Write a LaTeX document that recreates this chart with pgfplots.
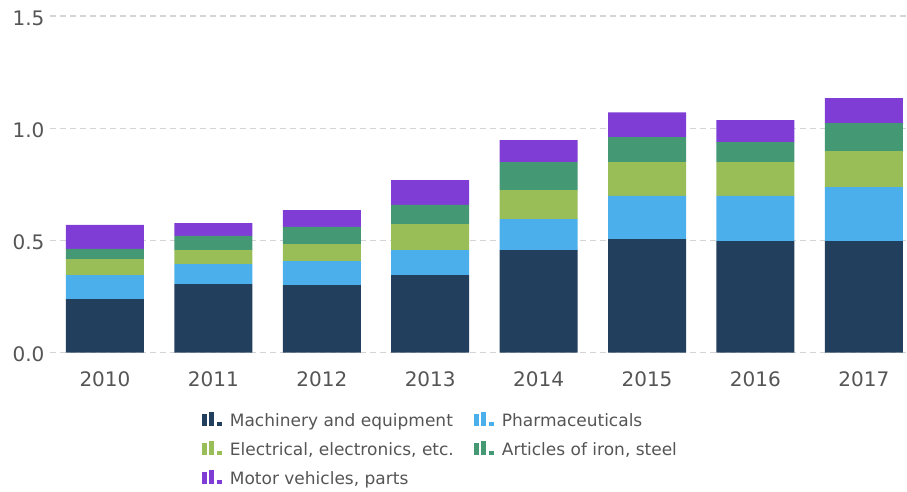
\documentclass[border=0pt]{standalone}
\usepackage{fontspec}
\setmainfont{DejaVu Sans}
\usepackage{pgfplots}
\pgfplotsset{compat=1.18}
\definecolor{cmach}{HTML}{223F5E}
\definecolor{cpharma}{HTML}{4AAFEA}
\definecolor{celec}{HTML}{9ABE57}
\definecolor{ciron}{HTML}{449874}
\definecolor{cmotor}{HTML}{803DD6}
\definecolor{ctext}{HTML}{555555}
\definecolor{cgrid}{HTML}{D4D4D4}
\pgfplotsset{
  baricon/.style={legend image code/.code={
    \fill[#1] (0pt,-4.5pt) rectangle (5pt,7.5pt);
    \fill[#1] (7.5pt,-4.5pt) rectangle (12.5pt,9.5pt);
    \fill[#1] (15pt,-4.5pt) rectangle (20pt,-0.5pt);
  }}
}
\begin{document}
\begin{tikzpicture}
\path[use as bounding box] (-50pt,-139.3pt) rectangle (857pt,352.7pt);
\begin{axis}[
  at={(0pt,0pt)}, anchor=south west,
  scale only axis, width=857pt, height=336.7pt,
  xmin=-0.507, xmax=7.398, ymin=0, ymax=1.5,
  ybar stacked, bar width=0.72, bar shift=0pt,
  axis line style={draw=none},
  major tick length=0pt,
  xtick={0,1,2,3,4,5,6,7},
  xticklabels={2010,2011,2012,2013,2014,2015,2016,2017},
  ytick={0,0.5,1,1.5},
  /pgf/number format/fixed, /pgf/number format/fixed zerofill,
  /pgf/number format/precision=1, /pgf/number format/assume math mode=true,
  ticklabel style={font=\fontsize{20}{23}\selectfont, text=ctext},
  xticklabel style={yshift=-15pt},
  yticklabel style={xshift=-2pt, yshift=-2pt},
  ymajorgrids, grid style={cgrid, line width=1.4pt, dash pattern=on 6pt off 4pt},
  legend columns=2,
  legend cell align=left,
  legend style={draw=none, fill=none, inner sep=0pt, at={(0.177,-0.177)}, anchor=north west,
    font=\fontsize{17}{20}\selectfont, text=ctext,
    nodes={inner sep=0pt, text height=13pt, text depth=4pt},
    row sep=11pt,
    /tikz/every odd column/.append style={column sep=8pt},
    /tikz/every even column/.append style={column sep=20pt}},
]
\addplot[fill=cmach, draw=none, baricon=cmach] coordinates {(0,0.239) (1,0.306) (2,0.301) (3,0.346) (4,0.457) (5,0.506) (6,0.497) (7,0.497)};
\addplot[fill=cpharma, draw=none, baricon=cpharma] coordinates {(0,0.107) (1,0.089) (2,0.107) (3,0.111) (4,0.138) (5,0.193) (6,0.202) (7,0.241)};
\addplot[fill=celec, draw=none, baricon=celec] coordinates {(0,0.071) (1,0.062) (2,0.076) (3,0.116) (4,0.129) (5,0.150) (6,0.150) (7,0.160)};
\addplot[fill=ciron, draw=none, baricon=ciron] coordinates {(0,0.045) (1,0.063) (2,0.076) (3,0.085) (4,0.125) (5,0.111) (6,0.089) (7,0.125)};
\addplot[fill=cmotor, draw=none, baricon=cmotor] coordinates {(0,0.107) (1,0.057) (2,0.075) (3,0.111) (4,0.098) (5,0.111) (6,0.098) (7,0.111)};
\legend{Machinery and equipment, Pharmaceuticals, {Electrical, electronics, etc.}, {Articles of iron, steel}, {Motor vehicles, parts}}
\end{axis}
\end{tikzpicture}
\end{document}
